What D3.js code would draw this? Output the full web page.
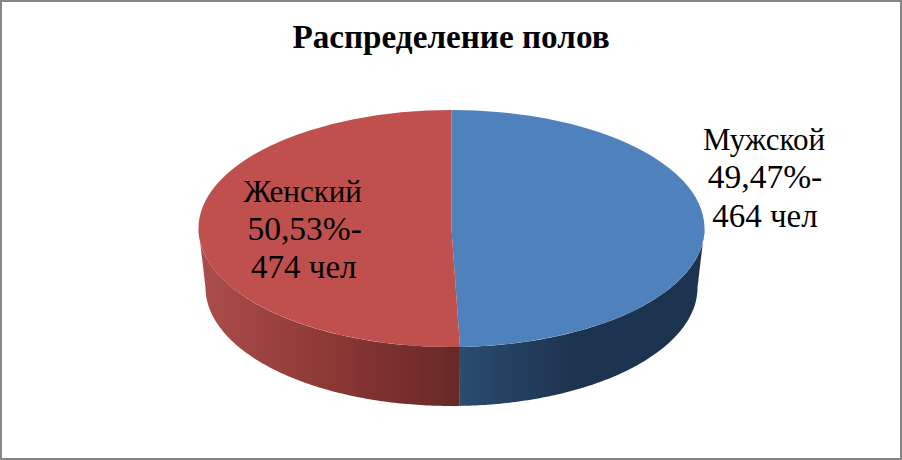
<!DOCTYPE html>
<html><head><meta charset="utf-8">
<script src="https://cdn.jsdelivr.net/npm/d3@7"></script>
<style>html,body{margin:0;padding:0;background:#fff}svg{display:block}text{font-family:"Liberation Serif",serif;fill:#000}</style>
</head><body><svg id="c" width="902" height="460"></svg>
<script>
const title = "Распределение полов";
const categories = ["Мужской", "Женский"];
const counts = [464, 474];
const percents = ["49,47%-", "50,53%-"];
const countLabels = ["464 чел", "474 чел"];
const topColors = ["#4F81BD", "#BF504D"];

const svg = d3.select("#c");
const W = 902, H = 460, cx = 451.5, cy = 228.5, rx = 253, ry = 118.5, depth = 59, rxBottom = 246;

svg.append("rect").attr("x",1).attr("y",1).attr("width",W-2).attr("height",H-2)
  .attr("fill","#fff").attr("stroke","#868686").attr("stroke-width",2);

const defs = svg.append("defs");
const gradients = [
  {id:"wall0", stops:[[0,"#2A4C70"],[0.45,"#1D3450"],[1,"#1D3450"]]},
  {id:"wall1", stops:[[0,"#AC4E4A"],[0.5,"#8C3835"],[1,"#672826"]]}
];
gradients.forEach(g=>{
  const lg = defs.append("linearGradient").attr("id",g.id);
  g.stops.forEach(s=>lg.append("stop").attr("offset",s[0]).attr("stop-color",s[1]));
});

const arcs = d3.pie().sort(null)(counts);
const px = a => cx + rx*Math.sin(a);
const py = a => cy - ry*Math.cos(a);
const pxBottom = a => cx + rxBottom*Math.sin(a);

// side walls: front half only; the lower rim is slightly narrower (perspective)
arcs.forEach((d,i)=>{
  const a0 = Math.max(d.startAngle, Math.PI/2), a1 = Math.min(d.endAngle, 3*Math.PI/2);
  const angles = d3.range(0,121).map(k=>a0+(a1-a0)*k/120);
  const area = d3.area().x0(px).x1(pxBottom).y0(py).y1(a=>py(a)+depth);
  const xs = angles.map(px), x0 = d3.min(xs), x1 = d3.max(xs);
  defs.select("#wall"+i).attr("gradientUnits","userSpaceOnUse")
    .attr("x1",x0).attr("x2",x1).attr("y1",0).attr("y2",0);
  svg.append("path").attr("d",area(angles)).attr("fill",`url(#wall${i})`);
});

// top face
const arcGen = d3.arc().innerRadius(0).outerRadius(rx);
svg.append("g").attr("transform",`translate(${cx},${cy}) scale(1,${ry/rx})`)
  .selectAll("path").data(arcs).join("path")
  .attr("d",arcGen).attr("fill",(d,i)=>topColors[i]);

svg.append("text").attr("x",451).attr("y",48).attr("text-anchor","middle")
  .attr("font-size",33.2).attr("font-weight","bold").text(title);

const rowSizes = [31,33.5,33];
const rowX = [[764,765,765],[302.7,304.7,303.8]];
const rowY = [[149.5,187.5,226.7],[201.7,239.5,278.3]];
categories.forEach((c,i)=>{
  const t = svg.append("text").attr("text-anchor","middle");
  [c,percents[i],countLabels[i]].forEach((s,k)=>{
    t.append("tspan").attr("x",rowX[i][k]).attr("y",rowY[i][k]).attr("font-size",rowSizes[k]).text(s);
  });
});
</script></body></html>
